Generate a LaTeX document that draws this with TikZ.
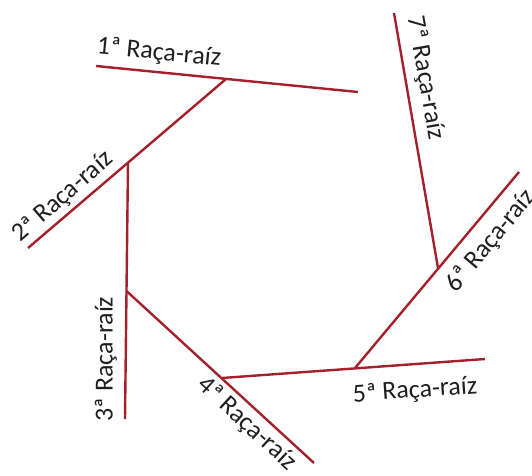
\documentclass[tikz,border=0pt]{standalone}
\usepackage{fontspec}
\setmainfont{Carlito}
\usepackage{tikz}
\usetikzlibrary{calc}
\definecolor{raizred}{RGB}{164,32,42}
\tikzset{
  raiz/.style={draw=raizred, line width=2.4pt, line cap=butt},
  rlab/.style={font=\fontsize{26}{29}\selectfont, inner sep=0pt, text=black!88},
  every picture/.append style={x=1pt, y=-1pt}
}
\begin{document}
\begin{tikzpicture}
  \useasboundingbox (0,0) rectangle (532,475);
  % end points and junctions
  \coordinate (a1) at (96,66);
  \coordinate (b1) at (358,92);
  \coordinate (j12) at (226,79);
  \coordinate (a2) at (28,248);
  \coordinate (j23) at (128,163);
  \coordinate (b3) at (125,419);
  \coordinate (j34) at (126.5,291);
  \coordinate (b4) at (314,463);
  \coordinate (j45) at (222,378);
  \coordinate (b5) at (485,359);
  \coordinate (j56) at (355,368);
  \coordinate (b6) at (519,172);
  \coordinate (j67) at (438,268);
  \coordinate (b7) at (394,13);
  % the seven lines
  \draw[raiz] (a1) -- (b1);
  \draw[raiz] (a2) -- (j12);
  \draw[raiz] (j23) -- (b3);
  \draw[raiz] (j34) -- (b4);
  \draw[raiz] (j45) -- (b5);
  \draw[raiz] (j56) -- (b6);
  \draw[raiz] (j67) -- (b7);
  % labels
  \node[rlab, rotate=-5.7] (l1) at (159,53) {1ª Raça-raíz};
  \node[rlab, rotate=41] (l2) at (63,197) {2ª Raça-raíz};
  \node[rlab, rotate=90] (l3) at (106,359) {3ª Raça-raíz};
  \node[rlab, rotate=-42.6] (l4) at (247,424) {4ª Raça-raíz};
  \node[rlab, rotate=4] (l5) at (415,391) {5ª Raça-raíz};
  \node[rlab, rotate=50] (l6) at (491,241) {6ª Raça-raíz};
  \node[rlab, rotate=-80] (l7) at (425,78) {7ª Raça-raíz};
\end{tikzpicture}
\end{document}
